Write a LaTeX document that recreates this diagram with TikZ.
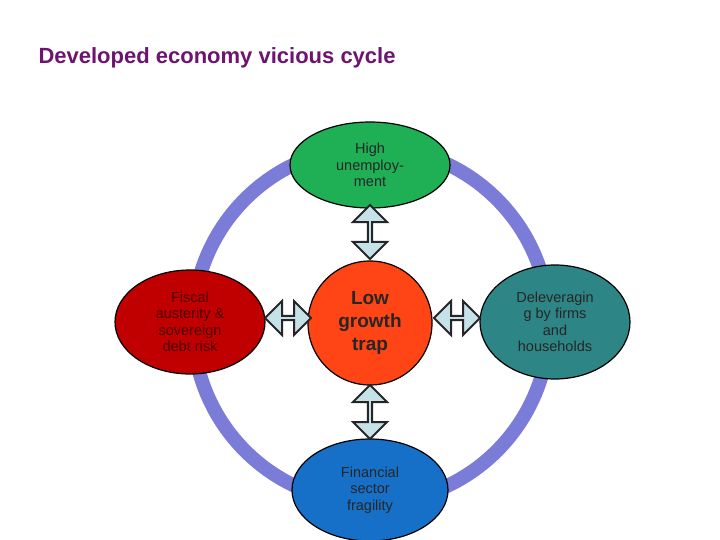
\documentclass[tikz,border=0pt]{standalone}
\usepackage{fontspec}
\setmainfont{Liberation Sans}
\usetikzlibrary{shapes.arrows,shapes.geometric}
\definecolor{ttl}{HTML}{6E1470}
\definecolor{ring}{HTML}{7B7BD8}
\definecolor{gr}{HTML}{1FAF55}
\definecolor{rd}{HTML}{C00000}
\definecolor{org}{HTML}{FF4515}
\definecolor{tl}{HTML}{2E8585}
\definecolor{bl}{HTML}{1670C8}
\definecolor{arr}{HTML}{C6E2E8}
\tikzset{
  blob/.style={ellipse,draw=black,line width=1.2pt,align=center,inner sep=0pt,font=\fontsize{14.5}{16.5}\selectfont,text=black!85},
  dbl/.style={double arrow,draw=black!85,line width=2pt,fill=arr,double arrow head extend=7pt,double arrow head indent=0pt,minimum width=34pt,inner sep=0pt}
}
\begin{document}
\begin{tikzpicture}[x=1pt,y=-1pt]
\useasboundingbox (0,0) rectangle (720,540);
\node[anchor=west,text=ttl,font=\bfseries\fontsize{22}{26}\selectfont] (title) at (35,58) {Developed economy vicious cycle};
\draw[ring,line width=14pt] (371,325) circle (178);
\node[blob,fill=gr,minimum width=160pt,minimum height=86pt] (top) at (370,165) {High\\unemploy-\\ment};
\node[blob,fill=rd,minimum width=150pt,minimum height=104pt,text=black!60!rd] (left) at (190,322) {Fiscal\\austerity \&\\sovereign\\debt risk};
\node[blob,fill=org,minimum width=124pt,minimum height=124pt,font=\bfseries\fontsize{19}{23}\selectfont] (mid) at (370,323) {Low\\growth\\trap};
\node[blob,fill=tl,minimum width=150pt,minimum height=114pt] (right) at (555,322) {Deleveragin\\g by firms\\and\\households};
\node[blob,fill=bl,minimum width=156pt,minimum height=102pt] (bot) at (370,490) {Financial\\sector\\fragility};
\node[dbl,rotate=90,minimum height=54pt] (a1) at (370,232) {};
\node[dbl,rotate=90,minimum height=54pt] (a2) at (370,412) {};
\node[dbl,minimum height=46pt] (a3) at (288,318) {};
\node[dbl,minimum height=46pt] (a4) at (457,318) {};
\end{tikzpicture}
\end{document}
